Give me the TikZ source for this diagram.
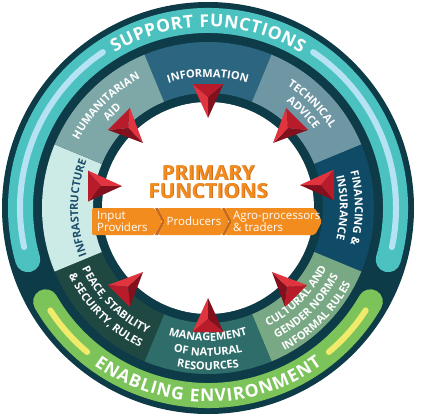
\documentclass[tikz,border=0pt]{standalone}
\usepackage{fontspec}
\setmainfont{Open Sans}
\usetikzlibrary{decorations.text}
\definecolor{ringdark}{HTML}{0E3B48}
\definecolor{bandteal}{HTML}{4CC2C0}
\definecolor{stripeblue}{HTML}{B5E3F3}
\definecolor{bandgreen}{HTML}{7CC35A}
\definecolor{stripeyellow}{HTML}{F0EB6B}
\definecolor{segInfo}{HTML}{2C6580}
\definecolor{segTech}{HTML}{6F96A3}
\definecolor{segFin}{HTML}{0F4B66}
\definecolor{segCult}{HTML}{79A884}
\definecolor{segMgmt}{HTML}{2E6D69}
\definecolor{segPeace}{HTML}{1F4842}
\definecolor{segInfra}{HTML}{CDEBE6}
\definecolor{segHum}{HTML}{7EA7A7}
\definecolor{infratext}{HTML}{1B4D6B}
\definecolor{orangeA}{HTML}{F28C1F}
\definecolor{orangeD}{HTML}{C8681A}
\definecolor{pyrTop}{HTML}{B81C2B}
\definecolor{pyrLight}{HTML}{E2343F}
\definecolor{pyrDark}{HTML}{82101D}
\newcommand{\bandfont}{\fontsize{17.5}{17.5}\selectfont\bfseries}
\newcommand{\labelfont}{\fontsize{11}{12}\selectfont\bfseries}
\newcommand{\sectorfill}[2]{%
  \fill[#1] ({#2-22.5}:166pt) arc[start angle={#2-22.5}, end angle={#2+22.5}, radius=166pt]
    -- ({#2+22.5}:115pt) arc[start angle={#2+22.5}, end angle={#2-22.5}, radius=115pt] -- cycle;}
\newcommand{\arclabel}[5]{%
  \path[decorate, decoration={text along path, text align=center, text color=#4,
    text={|\labelfont|#5}}] (#1:#3pt) arc[start angle=#1, end angle=#2, radius=#3pt];}
\newcommand{\pyr}[5]{%
  \begin{scope}[shift={(#1pt,#2pt)}, rotate=#3]
    \fill[#4] (-34pt,15.5pt) -- (-21pt,0pt) -- (0pt,0pt) -- cycle;
    \fill[#5] (-34pt,-15.5pt) -- (-21pt,0pt) -- (0pt,0pt) -- cycle;
    \fill[pyrTop] (-34pt,15.5pt) -- (-34pt,-15.5pt) -- (-21pt,0pt) -- cycle;
  \end{scope}}
\tikzset{
  boxtext/.style={text=white, font=\fontsize{11.5}{11.5}\selectfont, inner sep=0pt, align=left},
  primbox/.style={fill=orangeA, rounded corners=2pt},
  titletext/.style={font=\fontsize{20.5}{20.5}\selectfont\bfseries, inner sep=0pt, anchor=base}
}
\begin{document}
\begin{tikzpicture}
\useasboundingbox (0,0) rectangle (428pt,416pt);
\begin{scope}[shift={(208pt,208pt)}]
  % dark base disk
  \fill[ringdark] (0,0) circle[radius=206pt];
  % outer bands
  \draw[bandteal, line width=25pt, line cap=round] (-16:187.5pt) arc[start angle=-16, end angle=196, radius=187.5pt];
  \draw[bandgreen, line width=25pt, line cap=round] (210:187.5pt) arc[start angle=210, end angle=330, radius=187.5pt];
  \draw[stripeblue, line width=6pt, line cap=round] (-12:188pt) arc[start angle=-12, end angle=56, radius=188pt];
  \draw[stripeblue, line width=6pt, line cap=round] (124:188pt) arc[start angle=124, end angle=192, radius=188pt];
  \draw[stripeyellow, line width=6pt, line cap=round] (213:188pt) arc[start angle=213, end angle=230, radius=188pt];
  \draw[stripeyellow, line width=6pt, line cap=round] (310:188pt) arc[start angle=310, end angle=327, radius=188pt];
  % band texts
  \path[decorate, decoration={text along path, text align=fit to path, text color=white,
    text={|\bandfont|SUPPORT FUNCTIONS}}] (121:181pt) arc[start angle=121, end angle=59, radius=181pt];
  \path[decorate, decoration={text along path, text align=fit to path, text color=white,
    text={|\bandfont|ENABLING ENVIRONMENT}}] (234:194pt) arc[start angle=234, end angle=306, radius=194pt];
  % segments
  \sectorfill{segInfo}{90}
  \sectorfill{segTech}{45}
  \sectorfill{segFin}{0}
  \sectorfill{segCult}{-45}
  \sectorfill{segMgmt}{-90}
  \sectorfill{segPeace}{-135}
  \sectorfill{segInfra}{180}
  \sectorfill{segHum}{135}
  % segment labels (upper half, clockwise)
  \arclabel{112.5}{67.5}{131}{white}{INFORMATION}
  \arclabel{67.5}{22.5}{146}{white}{TECHNICAL}
  \arclabel{67.5}{22.5}{132}{white}{ADVICE}
  \arclabel{22.5}{-22.5}{147}{white}{FINANCING {\&}}
  \arclabel{22.5}{-22.5}{132}{white}{INSURANCE}
  \arclabel{157.5}{112.5}{146}{white}{HUMANITARIAN}
  \arclabel{157.5}{112.5}{132}{white}{AID}
  \arclabel{202.5}{157.5}{130}{infratext}{INFRASTRUCTURE}
  % segment labels (lower half, counterclockwise)
  \arclabel{-112.5}{-67.5}{133}{white}{MANAGEMENT}
  \arclabel{-112.5}{-67.5}{148}{white}{OF NATURAL}
  \arclabel{-112.5}{-67.5}{162}{white}{RESOURCES}
  \arclabel{-67.5}{-22.5}{133}{white}{CULTURAL AND}
  \arclabel{-67.5}{-22.5}{147.5}{white}{GENDER NORMS}
  \arclabel{-67.5}{-22.5}{162}{white}{INFORMAL RULES}
  \arclabel{-157.5}{-112.5}{140}{white}{PEACE, STABILITY}
  \arclabel{-157.5}{-112.5}{155}{white}{{\&} SECUIRTY, RULES}
  % inner white disk
  \fill[white] (0,0) circle[radius=106pt];
  % pyramids
  \pyr{0}{90}{-90}{pyrDark}{pyrLight}
  \pyr{0}{-90}{90}{pyrLight}{pyrDark}
  \pyr{-86}{22}{0}{pyrLight}{pyrDark}
  \pyr{92}{23}{180}{pyrDark}{pyrLight}
  \pyr{-65}{65}{-45}{pyrLight}{pyrDark}
  \pyr{65}{65}{-135}{pyrDark}{pyrLight}
  \pyr{-65}{-64}{45}{pyrLight}{pyrDark}
  \pyr{64}{-64}{135}{pyrDark}{pyrLight}
\end{scope}
% primary function boxes
\fill[primbox] (92pt,181pt) -- (92pt,208pt) -- (155pt,208pt) -- (162pt,194.5pt) -- (155pt,181pt) -- cycle;
\fill[orangeD] (155pt,208pt) -- (158pt,208pt) -- (165pt,194.5pt) -- (158pt,181pt) -- (155pt,181pt) -- (162pt,194.5pt) -- cycle;
\fill[primbox] (158pt,181pt) -- (165pt,194.5pt) -- (158pt,208pt) -- (222pt,208pt) -- (229pt,194.5pt) -- (222pt,181pt) -- cycle;
\fill[orangeD] (222pt,208pt) -- (225pt,208pt) -- (232pt,194.5pt) -- (225pt,181pt) -- (222pt,181pt) -- (229pt,194.5pt) -- cycle;
\fill[primbox] (225pt,181pt) -- (232pt,194.5pt) -- (225pt,208pt) -- (315pt,208pt) -- (322pt,194.5pt) -- (315pt,181pt) -- cycle;
\node[boxtext, anchor=west] (inp) at (97pt,194.5pt) {Input\\Providers};
\node[boxtext] (prod) at (194pt,194.5pt) {Producers};
\node[boxtext, anchor=west] (agro) at (233pt,194.5pt) {Agro-processors\\\& traders};
% title
\node[titletext, text=orangeD] (t1s) at (208.9pt,235.1pt) {PRIMARY};
\node[titletext, text=orangeD] (t2s) at (208.9pt,217.1pt) {FUNCTIONS};
\node[titletext, text=orangeA] (t1) at (208pt,236pt) {PRIMARY};
\node[titletext, text=orangeA] (t2) at (208pt,218pt) {FUNCTIONS};
\end{tikzpicture}
\end{document}
